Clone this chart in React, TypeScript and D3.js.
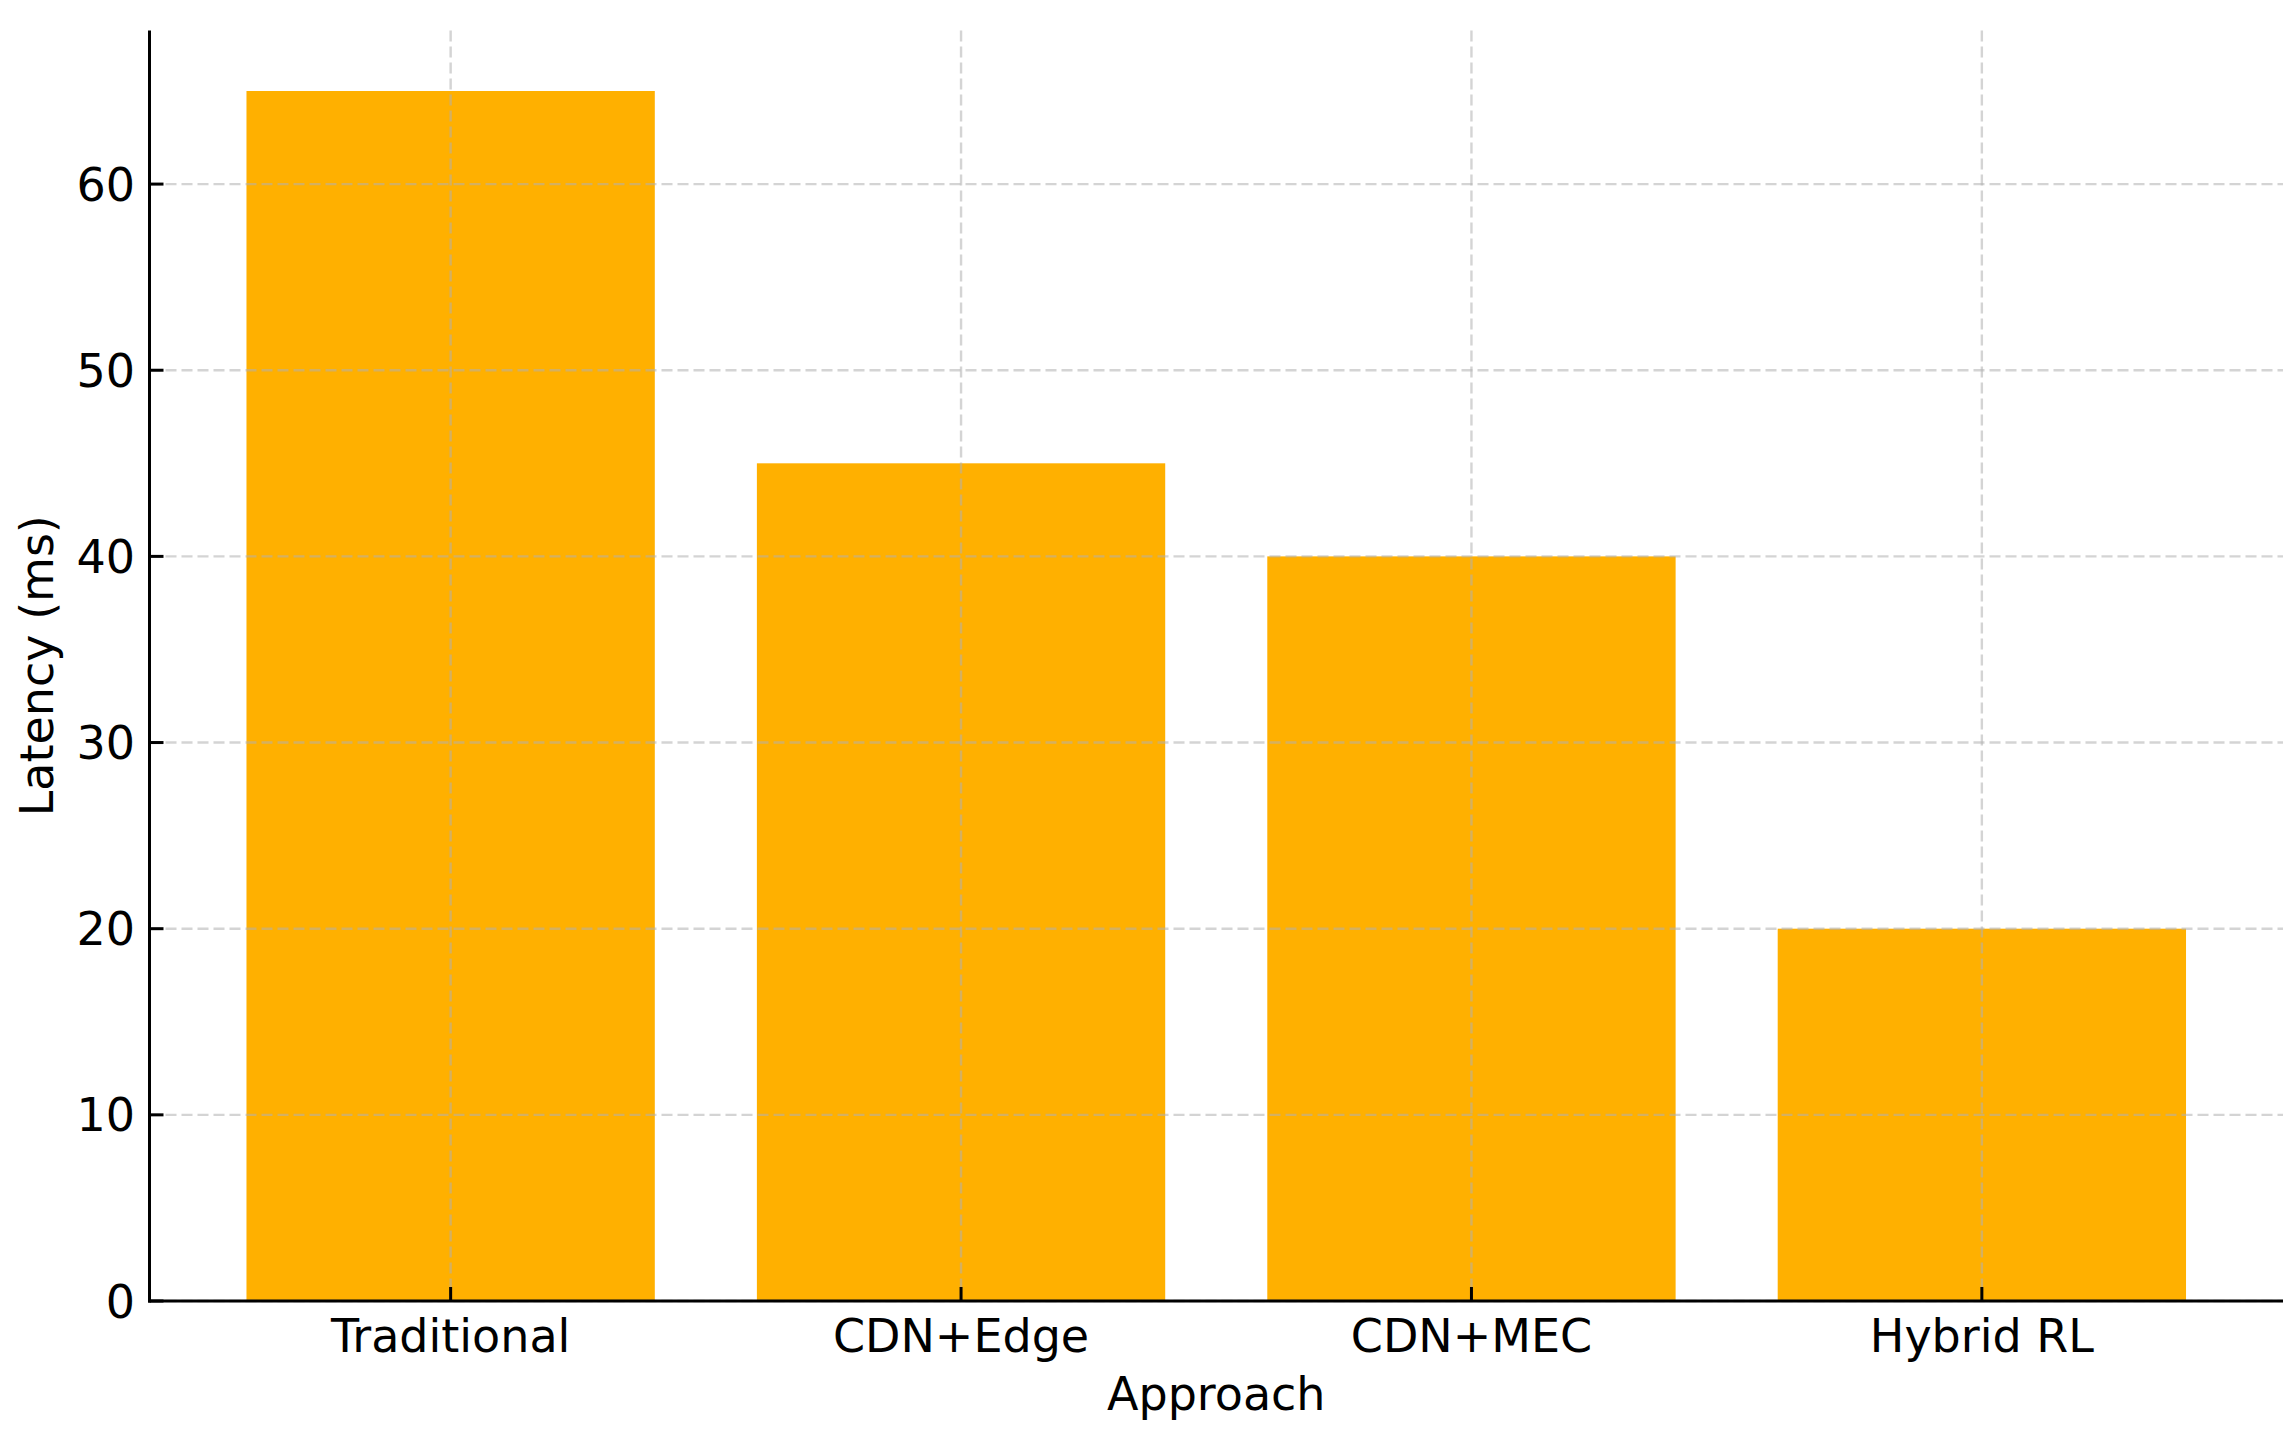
import React from "react";
import * as d3 from "d3";

const categories = ["Traditional", "CDN+Edge", "CDN+MEC", "Hybrid RL"];
const latency = [65, 45, 40, 20];
const yTicks = [0, 10, 20, 30, 40, 50, 60];
const xLabel = "Approach";
const yLabel = "Latency (ms)";

const W = 2295;
const H = 1436;
const left = 149.5;
const right = 2283;
const top = 30.5;
const bottom = 1301;
const FONT = "'DejaVu Sans', sans-serif";
const FS = 46;

export default function App() {
  const x = d3.scaleLinear().domain([-0.59, categories.length - 1 + 0.59]).range([left, right]);
  const y = d3.scaleLinear().domain([0, 68.25]).range([bottom, top]);
  const bw = x(0.8) - x(0);
  const gridColor = "#b0b0b0";

  return (
    <svg width={W} height={H} style={{ position: "absolute", left: 0, top: 0, background: "#fff" }}>
      <rect x={0} y={0} width={W} height={H} fill="#fff" />
      {latency.map((v, i) => (
        <rect key={i} x={x(i) - bw / 2} y={y(v)} width={bw} height={y(0) - y(v)} fill="#FFB000" />
      ))}
      {yTicks.map((t) => (
        <line key={"gy" + t} x1={left} x2={right} y1={y(t)} y2={y(t)} stroke={gridColor} strokeOpacity={0.55} strokeWidth={2.4} strokeDasharray="11,5" />
      ))}
      {categories.map((c, i) => (
        <line key={"gx" + i} x1={x(i)} x2={x(i)} y1={top} y2={bottom} stroke={gridColor} strokeOpacity={0.55} strokeWidth={2.4} strokeDasharray="11,5" />
      ))}
      <line x1={left} x2={left} y1={top} y2={bottom + 1.5} stroke="#000" strokeWidth={3} />
      <line x1={left - 1.5} x2={right} y1={bottom} y2={bottom} stroke="#000" strokeWidth={3} />
      {yTicks.map((t) => (
        <g key={"ty" + t}>
          <line x1={left} x2={left + 14} y1={y(t)} y2={y(t)} stroke="#000" strokeWidth={3} />
          <text x={135} y={y(t)} dy="0.36em" textAnchor="end" fontFamily={FONT} fontSize={FS} fill="#000">{t}</text>
        </g>
      ))}
      {categories.map((c, i) => (
        <g key={"tx" + i}>
          <line x1={x(i)} x2={x(i)} y1={bottom} y2={bottom - 14} stroke="#000" strokeWidth={3} />
          <text x={x(i)} y={1352} textAnchor="middle" fontFamily={FONT} fontSize={FS} fill="#000">{c}</text>
        </g>
      ))}
      <text x={(left + right) / 2} y={1410} textAnchor="middle" fontFamily={FONT} fontSize={FS} fill="#000">{xLabel}</text>
      <text transform={`translate(53, ${(top + bottom) / 2}) rotate(-90)`} textAnchor="middle" fontFamily={FONT} fontSize={FS} fill="#000">{yLabel}</text>
    </svg>
  );
}
